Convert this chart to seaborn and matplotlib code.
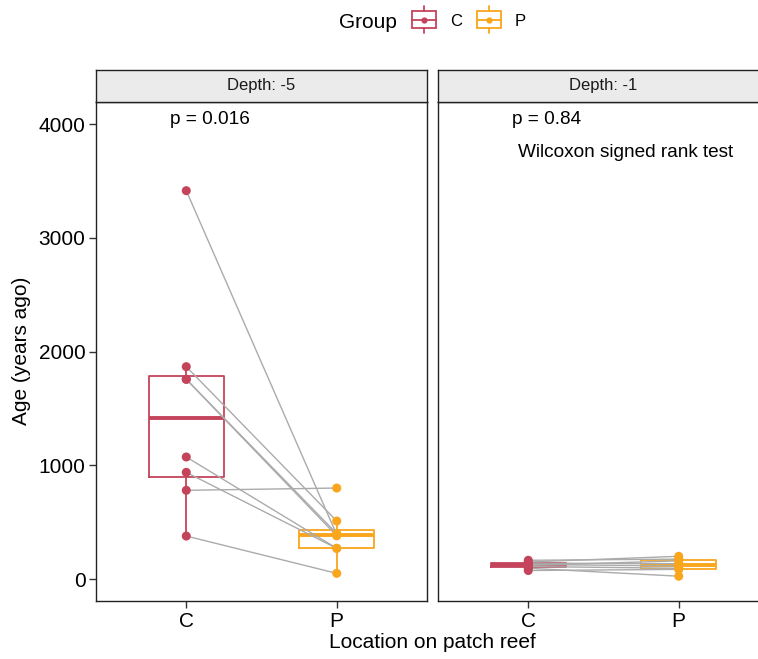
import numpy as np
import pandas as pd
import matplotlib
matplotlib.use("Agg")
import matplotlib.pyplot as plt
import seaborn as sns
from matplotlib.legend_handler import HandlerBase
from matplotlib.lines import Line2D
from matplotlib.patches import Rectangle

# ---------------- data ----------------
locations = ["C", "P"]
depth_labels = ["Depth: -5", "Depth: -1"]
p_labels = ["p = 0.016", "p = 0.84"]
test_label = "Wilcoxon signed rank test"

# paired samples (same index = same pair)
c_depth5 = [3414, 1867, 1756, 1756, 1073, 938, 780, 378]
p_depth5 = [390, 510, 400, 380, 270, 270, 800, 50]
c_depth1 = [165, 150, 140, 128, 120, 110, 95, 75]
p_depth1 = [175, 200, 135, 115, 160, 95, 25, 85]

colors = {"C": "#C4445C", "P": "#F9A61C"}
line_gray = "#ABABAB"

def make_df(cvals, pvals):
    rows = []
    for i, (c, p) in enumerate(zip(cvals, pvals)):
        rows.append(dict(pair=i, loc="C", age=c))
        rows.append(dict(pair=i, loc="P", age=p))
    d = pd.DataFrame(rows)
    d["xpos"] = d["loc"].map({l: k for k, l in enumerate(locations)})
    return d

panels = [make_df(c_depth5, p_depth5), make_df(c_depth1, p_depth1)]

# ---------------- style ----------------
sns.set_style("ticks")
plt.rcParams["font.family"] = ["Liberation Sans", "DejaVu Sans"]
plt.rcParams["axes.linewidth"] = 1.0
for key in ["text.color", "axes.labelcolor", "xtick.color", "ytick.color"]:
    plt.rcParams[key] = "black"

W, H = 758, 659
fig = plt.figure(figsize=(W / 100, H / 100), dpi=100)

def fx(px):
    return px / W

def fy(py):
    return 1 - py / H

panel_w = 331
panel_top, panel_bot = 101.5, 601
strip_top = 69.5
lefts = [96, 438]

ylim = (-193, 4198)

for k, (d, left) in enumerate(zip(panels, lefts)):
    ax = fig.add_axes([fx(left), fy(panel_bot), panel_w / W, (panel_bot - panel_top) / H])
    sns.boxplot(data=d, x="loc", y="age", hue="loc", order=locations, hue_order=locations,
                palette=colors, fill=False, width=0.5, showfliers=False, showcaps=False,
                linewidth=1.3, medianprops=dict(linewidth=2.8), legend=False, ax=ax, zorder=1)
    sns.lineplot(data=d, x="xpos", y="age", units="pair", estimator=None, color=line_gray,
                 linewidth=1.0, legend=False, ax=ax, zorder=2, sort=False)
    sns.stripplot(data=d, x="loc", y="age", hue="loc", order=locations, hue_order=locations,
                  palette=colors, jitter=False, size=6.5, linewidth=0, legend=False, ax=ax, zorder=3)
    ax.set_xlim(-0.6, 1.6)
    ax.set_ylim(*ylim)
    ax.set_xlabel("")
    ax.set_ylabel("")
    ax.set_xticks([0, 1])
    ax.set_xticklabels(locations, fontsize=15)
    ax.set_yticks([0, 1000, 2000, 3000, 4000])
    ax.tick_params(axis="x", length=5, width=1.0, pad=3, color="#333333")
    if k == 0:
        ax.tick_params(axis="y", length=5, width=1.0, pad=2.5, labelsize=15, color="#333333")
    else:
        ax.tick_params(axis="y", left=False, labelleft=False)
    for s in ax.spines.values():
        s.set_visible(True)
        s.set_color("#222222")
        s.set_linewidth(1.0)
    ax.text(-0.105, 4044, p_labels[k], ha="left", va="center", fontsize=13.7)
    if k == 1:
        ax.text(-0.068, 3754, test_label, ha="left", va="center", fontsize=13.7)

    sax = fig.add_axes([fx(left), fy(panel_top), panel_w / W, (panel_top - strip_top) / H])
    sax.set_facecolor("#EBEBEB")
    sax.set_xticks([])
    sax.set_yticks([])
    for s in sax.spines.values():
        s.set_visible(True)
        s.set_color("#222222")
        s.set_linewidth(1.0)
    sax.text(0.5, 0.5, depth_labels[k], ha="center", va="center", fontsize=12,
             color="#1A1A1A", transform=sax.transAxes)

fig.text(fx(432), fy(643), "Location on patch reef", ha="center", va="center", fontsize=15)
fig.text(fx(22), fy(351), "Age (years ago)", ha="center", va="center", rotation=90, fontsize=15)

# ---------------- legend ----------------
class BoxGlyph(HandlerBase):
    def create_artists(self, legend, orig_handle, xdescent, ydescent, width, height,
                       fontsize, trans):
        c = orig_handle.get_color()
        cx = -xdescent + width / 2
        cy = -ydescent + height / 2
        bw = width
        bh = 12.5
        wl = 3.5
        arts = [
            Rectangle((cx - bw / 2, cy - bh / 2), bw, bh, fill=False, ec=c, lw=1.3, transform=trans),
            Line2D([cx - bw / 2, cx + bw / 2], [cy, cy], color=c, lw=1.3, transform=trans),
            Line2D([cx, cx], [cy + bh / 2, cy + bh / 2 + wl], color=c, lw=1.3, transform=trans),
            Line2D([cx, cx], [cy - bh / 2 - wl, cy - bh / 2], color=c, lw=1.3, transform=trans),
            Line2D([cx], [cy], marker="o", ms=4.5, color=c, mec="none", lw=0, transform=trans),
        ]
        return arts

handles = [Line2D([], [], color=colors[l]) for l in locations]
fig.text(fx(367.5), fy(22), "Group", ha="center", va="center", fontsize=15)
fig.legend(handles, locations, handler_map={Line2D: BoxGlyph()}, loc="center left",
           bbox_to_anchor=(fx(412), fy(21)), ncol=2, frameon=False, fontsize=12,
           handlelength=1.44, handletextpad=0.84, columnspacing=0.9, borderpad=0,
           borderaxespad=0)

fig.savefig("out.png", dpi=100)
